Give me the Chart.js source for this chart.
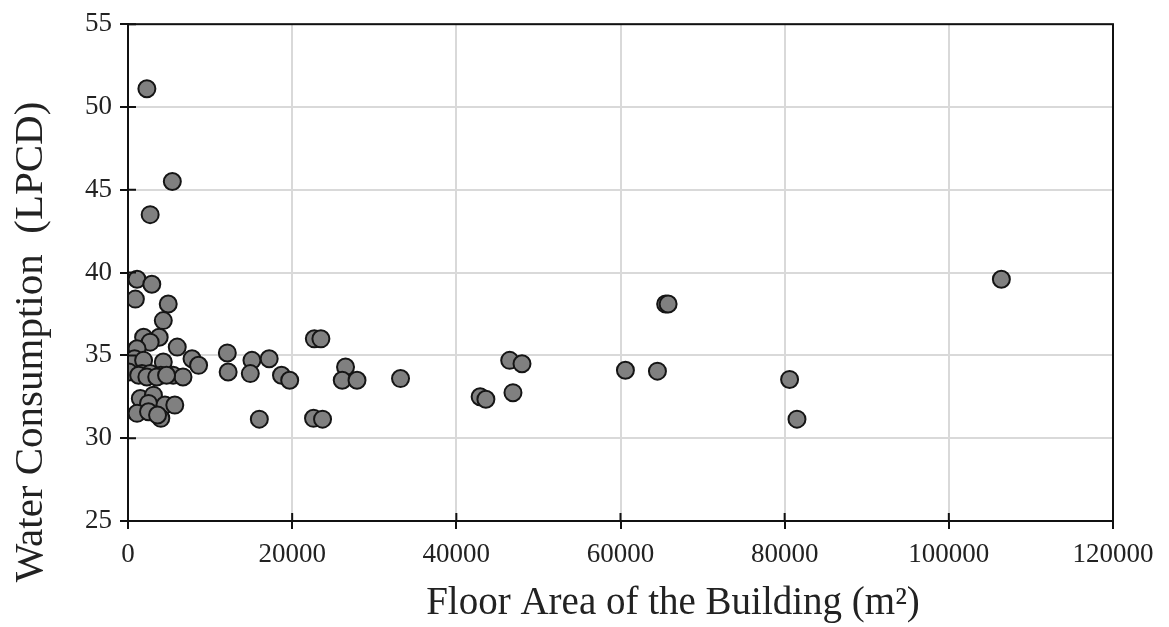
<!DOCTYPE html>
<html>
<head>
<meta charset="utf-8">
<script src="https://cdn.jsdelivr.net/npm/chart.js@4/dist/chart.umd.min.js"></script>
<style>
  html, body { margin: 0; padding: 0; background: #fff; }
  #wrap { width: 1169px; height: 627px; }
</style>
</head>
<body>
<div id="wrap"><canvas id="myChart" width="1169" height="627"></canvas></div>
<script>
// floor area (m2) and water consumption (LPCD)
const floorArea = [
    2300, 5400, 2700, 1100, 2900, 900, 4900, 4300, 1900, 3800,
    2700, 1100, 6000, 800, 1900, 4300, 7800, 8600, 100, 1700,
    2700, 4000, 5500, 6700, 1300, 2300, 3500, 4700, 1500, 3100,
    2500, 4500, 5700, 1100, 2500, 4000, 3600,
    12100, 12200, 15100, 14900, 17200, 18700, 19700, 16000,
    22700, 23500, 22600, 23700, 26500, 26100, 27900, 33200,
    46500, 48000, 42900, 43600, 46900, 60600, 64500,
    65500, 65800, 80600, 81500, 106400
];
const waterUse = [
    51.1, 45.5, 43.5, 39.6, 39.3, 38.4, 38.1, 37.1, 36.1, 36.1,
    35.8, 35.4, 35.5, 34.8, 34.7, 34.6, 34.8, 34.4, 34.0, 33.9,
    33.9, 33.8, 33.8, 33.7, 33.8, 33.7, 33.7, 33.8, 32.4, 32.6,
    32.1, 32.0, 32.0, 31.5, 31.6, 31.2, 31.4,
    35.15, 34.0, 34.7, 33.9, 34.8, 33.8, 33.5, 31.15,
    36.0, 36.0, 31.2, 31.15, 34.3, 33.5, 33.5, 33.6,
    34.7, 34.5, 32.5, 32.35, 32.75, 34.1, 34.05,
    38.1, 38.1, 33.55, 31.15, 39.6
];
const xTicks = [0, 20000, 40000, 60000, 80000, 100000, 120000];
const yTicks = [25, 30, 35, 40, 45, 50, 55];
const xTitle = 'Floor Area of the Building (m\u00B2)';
const yTitle = 'Water Consumption  (LPCD)';

const points = floorArea.map((x, i) => ({ x: x, y: waterUse[i] }));

const serif = "'Liberation Serif', 'Times New Roman', serif";

// black frame, inner tick marks and the two axis titles (placed like the original)
const frame = {
    id: 'frame',
    afterDraw (chart) {
        const { ctx, chartArea: a, scales } = chart;
        ctx.save();
        ctx.strokeStyle = '#111';
        ctx.lineWidth = 2;
        ctx.strokeRect(a.left, a.top, a.right - a.left, a.bottom - a.top);
        ctx.beginPath();
        yTicks.forEach(v => {
            const py = scales.y.getPixelForValue(v);
            ctx.moveTo(a.left, py);
            ctx.lineTo(a.left + 8, py);
        });
        xTicks.forEach(v => {
            const px = scales.x.getPixelForValue(v);
            ctx.moveTo(px, a.bottom);
            ctx.lineTo(px, a.bottom - 8);
        });
        ctx.stroke();

        ctx.fillStyle = '#222';
        ctx.textAlign = 'center';
        ctx.textBaseline = 'middle';
        ctx.font = `39px ${serif}`;
        ctx.fillText(xTitle, 673, 604);

        ctx.translate(31, 342);
        ctx.rotate(-Math.PI / 2);
        ctx.font = `41px ${serif}`;
        ctx.fillText(yTitle, 0, 0);
        ctx.restore();
    }
};

new Chart(document.getElementById('myChart'), {
    type: 'scatter',
    data: {
        datasets: [{
            label: 'Buildings',
            data: points,
            pointRadius: 8.5,
            pointHoverRadius: 8.5,
            backgroundColor: '#808080',
            borderColor: '#151515',
            borderWidth: 2
        }]
    },
    options: {
        responsive: false,
        animation: false,
        layout: { padding: { top: 23, right: 56, left: 0, bottom: 0 } },
        plugins: { legend: { display: false }, tooltip: { enabled: false } },
        scales: {
            x: {
                type: 'linear',
                min: 0,
                max: 120000,
                afterBuildTicks: (scale) => { scale.ticks = xTicks.map(v => ({ value: v })); },
                afterFit: (scale) => { scale.height = 106; },
                ticks: {
                    color: '#222',
                    font: { family: serif, size: 27 },
                    padding: 10,
                    maxRotation: 0,
                    callback: (v) => String(v)
                },
                grid: { color: '#d9d9d9', lineWidth: 2, tickColor: '#111', tickLength: 8 },
                border: { color: '#111', width: 2 },
                title: { display: false }
            },
            y: {
                type: 'linear',
                min: 25,
                max: 55,
                afterBuildTicks: (scale) => { scale.ticks = yTicks.map(v => ({ value: v })); },
                afterFit: (scale) => { scale.width = 128; },
                ticks: {
                    color: '#222',
                    font: { family: serif, size: 27 },
                    padding: 8
                },
                grid: { color: '#d9d9d9', lineWidth: 2, tickColor: '#111', tickLength: 8 },
                border: { color: '#111', width: 2 },
                title: { display: false }
            }
        }
    },
    plugins: [frame]
});
</script>
</body>
</html>
